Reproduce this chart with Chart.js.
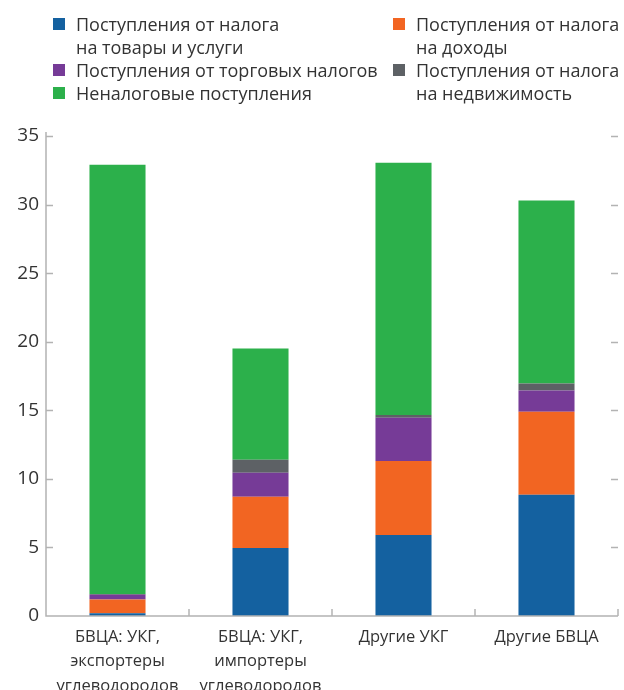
<!DOCTYPE html>
<html>
<head>
<meta charset="utf-8">
<script src="https://cdn.jsdelivr.net/npm/chart.js@4.4.1/dist/chart.umd.min.js"></script>
<style>
  html, body { margin: 0; padding: 0; background: #ffffff; }
  #wrap { position: relative; width: 624px; height: 690px; overflow: hidden; }
  #chart { position: absolute; left: 0; top: 0; }
  .legcol { position: absolute; top: 13px; font-family: "Open Sans", sans-serif; font-size: 18px; line-height: 23px; color: #333333; }
  .item { position: relative; padding-left: 23px; white-space: nowrap; }
  .sw { position: absolute; left: 0; top: 5px; width: 12px; height: 12px; }
</style>
</head>
<body>
<div id="wrap">
  <canvas id="chart" width="624" height="690"></canvas>
  <div class="legcol" id="leg0" style="left:53px"></div>
  <div class="legcol" id="leg1" style="left:393px"></div>
</div>
<script>
// ---- data ----
const categories = [
  ["БВЦА: УКГ,", "экспортеры", "углеводородов"],
  ["БВЦА: УКГ,", "импортеры", "углеводородов"],
  "Другие УКГ",
  "Другие БВЦА"
];
const seriesNames = [
  ["Поступления от налога", "на товары и услуги"],
  ["Поступления от налога", "на доходы"],
  ["Поступления от торговых налогов"],
  ["Поступления от налога", "на недвижимость"],
  ["Неналоговые поступления"]
];
const goodsTax    = [0.20, 4.95, 5.90, 8.85];
const incomeTax   = [1.00, 3.75, 5.40, 6.05];
const tradeTax    = [0.35, 1.75, 3.15, 1.55];
const propertyTax = [0.05, 0.95, 0.20, 0.50];
const nonTax      = [31.30, 8.10, 18.40, 13.35];
const yTicks = [0, 5, 10, 15, 20, 25, 30, 35];

const seriesValues = [goodsTax, incomeTax, tradeTax, propertyTax, nonTax];
const colors = ["#1461a0", "#f26522", "#763b97", "#5d6165", "#2cb04b"];
const legendColumns = [[0, 2, 4], [1, 3]];

// ---- HTML legend ----
legendColumns.forEach((col, ci) => {
  const el = document.getElementById("leg" + ci);
  col.forEach(i => {
    const d = document.createElement("div");
    d.className = "item";
    const sw = document.createElement("span");
    sw.className = "sw";
    sw.style.background = colors[i];
    d.appendChild(sw);
    seriesNames[i].forEach((line, k) => {
      if (k) d.appendChild(document.createElement("br"));
      d.appendChild(document.createTextNode(line));
    });
    el.appendChild(d);
  });
});

const AXIS = "#b3b3b3";
const FONT = "'Open Sans', sans-serif";

const tickMarks = {
  id: "tickMarks",
  afterDraw(chart) {
    const ctx = chart.ctx, a = chart.chartArea;
    const y = chart.scales.y, x = chart.scales.x;
    ctx.save();
    ctx.strokeStyle = AXIS;
    ctx.lineWidth = 1.5;
    ctx.beginPath();
    ctx.moveTo(a.left, a.top - 4);
    ctx.lineTo(a.left, a.bottom);
    ctx.lineTo(a.right, a.bottom);
    ctx.stroke();
    yTicks.forEach(v => {
      if (v === 0) return;
      const py = Math.round(y.getPixelForValue(v)) + 0.5;
      ctx.beginPath();
      ctx.moveTo(a.left, py); ctx.lineTo(a.left + 7, py);
      ctx.moveTo(a.right - 7, py); ctx.lineTo(a.right, py);
      ctx.stroke();
    });
    for (let i = 0; i < categories.length; i++) {
      const px = x.getPixelForValue(i + 0.5);
      ctx.beginPath();
      ctx.moveTo(px, a.bottom); ctx.lineTo(px, a.bottom - 7);
      ctx.stroke();
    }
    ctx.restore();
  }
};

new Chart(document.getElementById("chart"), {
  type: "bar",
  data: {
    labels: categories,
    datasets: seriesValues.map((vals, i) => ({
      label: seriesNames[i].join(" "),
      data: vals,
      backgroundColor: colors[i],
      borderWidth: 0,
      categoryPercentage: 1,
      barPercentage: 0.392
    }))
  },
  options: {
    responsive: false,
    animation: false,
    devicePixelRatio: 1,
    layout: { padding: { left: 0, right: 6, top: 136, bottom: 0 } },
    plugins: { legend: { display: false }, tooltip: { enabled: false } },
    scales: {
      x: {
        stacked: true,
        border: { display: false },
        grid: { display: false, drawTicks: false },
        ticks: { color: "#333333", font: { family: FONT, size: 16.5, lineHeight: 1.48 }, padding: 9, maxRotation: 0, autoSkip: false },
        afterFit(s) { s.height = 74; }
      },
      y: {
        stacked: true,
        min: 0, max: 35,
        afterBuildTicks(s) { s.ticks = yTicks.map(v => ({ value: v })); },
        border: { display: false },
        grid: { display: false, drawTicks: false },
        ticks: { color: "#333333", font: { family: FONT, size: 19 }, padding: 7 },
        afterFit(s) { s.width = 46; }
      }
    }
  },
  plugins: [tickMarks]
});
</script>
</body>
</html>
